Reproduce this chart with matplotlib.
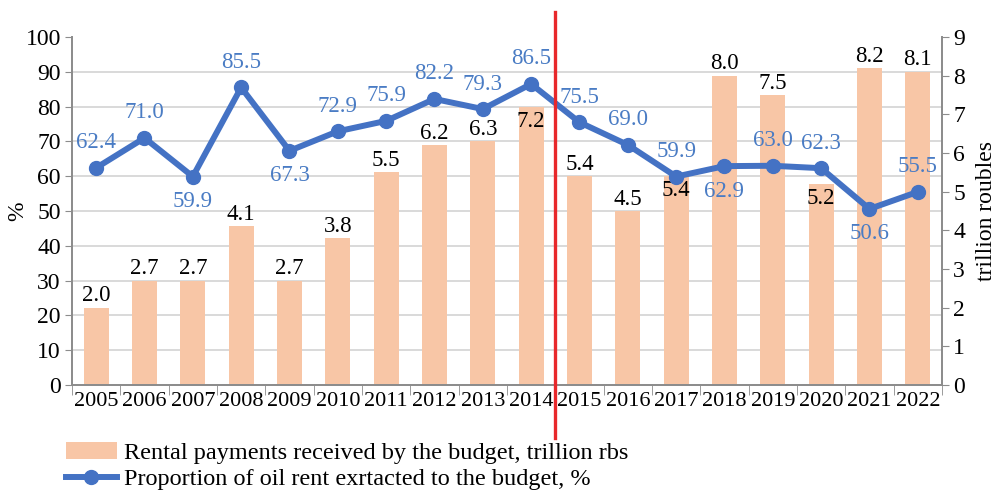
import numpy as np
import matplotlib.pyplot as plt
from matplotlib.lines import Line2D
from matplotlib.patches import Patch
import matplotlib.transforms as mtransforms

plt.rcParams['font.family'] = ['Liberation Serif', 'DejaVu Serif']

# data
years = ['2005', '2006', '2007', '2008', '2009', '2010', '2011', '2012', '2013',
         '2014', '2015', '2016', '2017', '2018', '2019', '2020', '2021', '2022']
rent_trln = [2.0, 2.7, 2.7, 4.1, 2.7, 3.8, 5.5, 6.2, 6.3,
             7.2, 5.4, 4.5, 5.4, 8.0, 7.5, 5.2, 8.2, 8.1]
oil_share = [62.4, 71.0, 59.9, 85.5, 67.3, 72.9, 75.9, 82.2, 79.3,
             86.5, 75.5, 69.0, 59.9, 62.9, 63.0, 62.3, 50.6, 55.5]
# label placement: 1 = above, -1 = below
share_lbl_pos = [1, 1, -1, 1, -1, 1, 1, 1, 1, 1, 1, 1, 1, -1, 1, 1, -1, 1]
rent_lbl_pos = [1, 1, 1, 1, 1, 1, 1, 1, 1, -1, 1, 1, -1, 1, 1, -1, 1, 1]

bar_col = '#F8C6A6'
line_col = '#4472C4'
lbl_blue = '#4A7CC4'
grey = '#8C8C8C'

fig = plt.figure(figsize=(9.97, 4.91), dpi=100)
ax = fig.add_axes([0.0722, 0.2159, 0.8726, 0.7087])
ax2 = ax.twinx()
ax.set_zorder(ax2.get_zorder() + 1)
ax.patch.set_visible(False)

x = np.arange(len(years))

# bars (right axis)
ax2.bar(x, rent_trln, width=0.52, color=bar_col, zorder=2)
ax2.set_ylim(0, 9)
ax2.set_yticks(np.arange(0, 10, 1))
ax2.set_yticks(np.arange(0, 9.01, 0.9), minor=True)
ax2.grid(which='minor', axis='y', color='#D0D0D0', linewidth=1.1, zorder=0)
ax2.set_axisbelow(True)
ax2.tick_params(axis='y', which='minor', length=0)
ax2.tick_params(axis='y', which='major', labelsize=17, length=5, color=grey, pad=3)
ax2.set_ylabel('trillion roubles', fontsize=17, labelpad=8)
for xi, v, p in zip(x, rent_trln, rent_lbl_pos):
    if p > 0:
        ax2.annotate(f'{v:.1f}', (xi, v), xytext=(0, 1), textcoords='offset points',
                     ha='center', va='bottom', fontsize=16.5, color='black')
    else:
        ax2.annotate(f'{v:.1f}', (xi, v), xytext=(0, -3), textcoords='offset points',
                     ha='center', va='top', fontsize=16.5, color='black')

# line (left axis)
ax.plot(x, oil_share, color=line_col, linewidth=4.3, marker='o', markersize=10, zorder=3)
for xi, v, p in zip(x, oil_share, share_lbl_pos):
    ax.annotate(f'{v:.1f}', (xi, v), xytext=(0, 18 * p), textcoords='offset points',
                ha='center', va='center', fontsize=16.5, color=lbl_blue)

ax.set_ylim(0, 100)
ax.set_yticks(np.arange(0, 101, 10))
ax.tick_params(axis='y', labelsize=17, length=5, color=grey, pad=3)
ax.set_ylabel('%', fontsize=17, labelpad=-2)

ax.set_xlim(-0.5, len(years) - 0.5)
ax.set_xticks(x)
ax.set_xticklabels(years, fontsize=16)
ax.set_xticks(np.arange(-0.5, len(years), 1), minor=True)
ax.tick_params(axis='x', which='major', length=0, pad=5)
ax.tick_params(axis='x', which='minor', length=7, color=grey)
ax2.tick_params(axis='x', which='both', length=0)

for a in (ax, ax2):
    a.spines['top'].set_visible(False)
    for s in ('left', 'right', 'bottom'):
        a.spines[s].set_color(grey)
        a.spines[s].set_linewidth(1.3)

# red separator between 2014 and 2015
trans = mtransforms.blended_transform_factory(ax.transData, ax.transAxes)
ax.add_line(Line2D([9.5, 9.5], [-0.152, 1.072], transform=trans, color='#E8282B',
                   linewidth=2.4, clip_on=False, zorder=5))

handles = [Patch(facecolor=bar_col, edgecolor='none'),
           Line2D([], [], color=line_col, linewidth=4.3, marker='o', markersize=10)]
labels = ['Rental payments received by the budget, trillion rbs',
          'Proportion of oil rent exrtacted to the budget, %']
fig.legend(handles, labels, loc='lower left', bbox_to_anchor=(0.056, -0.018),
           frameon=False, fontsize=17.5, handlelength=2.1, handletextpad=0.3,
           labelspacing=0.15, borderaxespad=0, numpoints=1)

fig.savefig('out.png', dpi=100)
